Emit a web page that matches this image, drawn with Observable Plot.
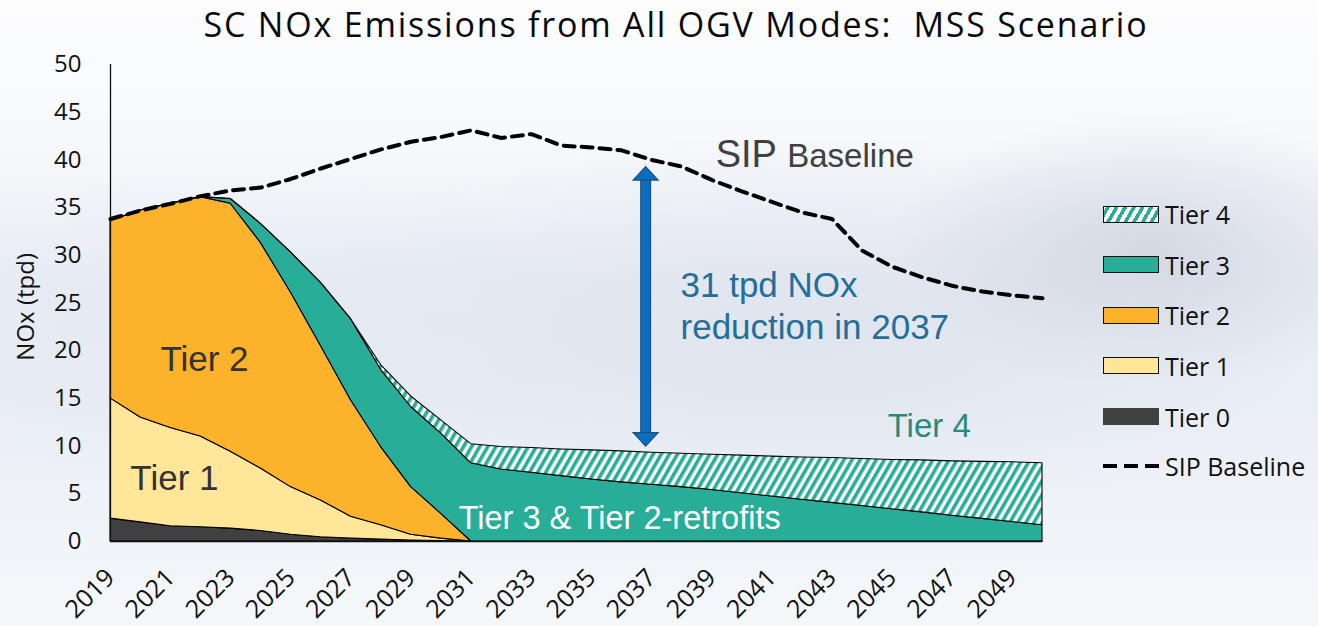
<!DOCTYPE html>
<html>
<head>
<meta charset="utf-8">
<script src="https://cdn.jsdelivr.net/npm/d3@7"></script>
<script src="https://cdn.jsdelivr.net/npm/@observablehq/plot@0.6"></script>
<style>
html, body { margin: 0; padding: 0; }
body { width: 1318px; height: 626px; overflow: hidden; }
#wrap {
  position: relative; width: 1318px; height: 626px; overflow: hidden;
  background:
    radial-gradient(ellipse 260px 140px at 1150px 250px, rgba(205,210,222,0.75), rgba(205,210,222,0) 100%),
    radial-gradient(ellipse 520px 200px at 800px 330px, rgba(215,220,232,0.55), rgba(215,220,232,0) 100%),
    radial-gradient(ellipse 420px 160px at 250px 330px, rgba(225,232,242,0.6), rgba(225,232,242,0) 100%),
    linear-gradient(to bottom, #fdfdfe 0%, #f7f9fc 22%, #e9edf4 45%, #eaeef5 65%, #f0f4f9 85%, #f5f8fb 100%);
}
#chart { position: absolute; left: 0; top: 0; }
#title {
  position: absolute; left: 0; top: 1px; width: 1352px; text-align: center;
  font-family: "Open Sans", sans-serif; font-size: 34px; letter-spacing: 1.8px; color: #0a0a0a; white-space: pre;
}
.item { position: absolute; left: 1103px; height: 20px; display: flex; align-items: center;
  font-family: "Open Sans", sans-serif; font-size: 25px; color: #111; white-space: nowrap; }
.sw { width: 56px; height: 17px; box-sizing: border-box; border: 1.5px solid #111; margin-right: 6px; flex: none; }
.dash { width: 56px; height: 4px; margin-right: 6px; flex: none;
  background: repeating-linear-gradient(to right, #000 0 14px, transparent 14px 21px); }
</style>
</head>
<body>
<div id="wrap">
  <div id="chart"></div>
  <div id="title">SC NOx Emissions from All OGV Modes:  MSS Scenario</div>
  <div id="legend"></div>
</div>
<script>
// ---------- data ----------
const years = [2019, 2020, 2021, 2022, 2023, 2024, 2025, 2026, 2027, 2028, 2029, 2030,
  2031, 2032, 2033, 2034, 2035, 2036, 2037, 2038, 2039, 2040, 2041, 2042, 2043, 2044,
  2045, 2046, 2047, 2048, 2049, 2050];
const tierNames = ["Tier 0", "Tier 1", "Tier 2", "Tier 3", "Tier 4"];
const tier0 = [2.4, 2.0, 1.6, 1.5, 1.35, 1.1, 0.7, 0.45, 0.3, 0.2, 0.1, 0.05,
  0, 0, 0, 0, 0, 0, 0, 0, 0, 0, 0, 0, 0, 0, 0, 0, 0, 0, 0, 0];
const tier1 = [12.6, 11.0, 10.3, 9.5, 8.05, 6.55, 5.0, 3.85, 2.3, 1.5, 0.6, 0.25,
  0, 0, 0, 0, 0, 0, 0, 0, 0, 0, 0, 0, 0, 0, 0, 0, 0, 0, 0, 0];
const tier2 = [18.6, 21.7, 23.5, 25.1, 26.0, 23.65, 20.4, 16.2, 12.2, 8.2, 5.0, 2.6,
  0, 0, 0, 0, 0, 0, 0, 0, 0, 0, 0, 0, 0, 0, 0, 0, 0, 0, 0, 0];
const tier3 = [0, 0, 0, 0, 0.5, 2.0, 4.2, 6.6, 8.5, 8.1, 8.4, 8.4,
  8.2, 7.55, 7.2, 6.85, 6.5, 6.2, 5.95, 5.7, 5.4, 5.05, 4.72, 4.38, 4.05, 3.72,
  3.38, 3.05, 2.7, 2.37, 2.04, 1.7];
const tier4 = [0, 0, 0, 0, 0, 0, 0, 0, 0, 0.5, 1.1, 1.4,
  2.0, 2.35, 2.6, 2.8, 3.05, 3.25, 3.35, 3.5, 3.7, 3.95, 4.18, 4.42, 4.7, 4.93,
  5.17, 5.45, 5.7, 5.98, 6.26, 6.5];
const sipBaseline = [33.8, 34.7, 35.4, 36.2, 36.8, 37.1, 38.0, 39.1, 40.1, 41.1, 41.9, 42.4,
  43.1, 42.3, 42.7, 41.5, 41.3, 41.0, 40.0, 39.3, 37.9, 36.7, 35.6, 34.5, 33.8, 30.5,
  28.8, 27.7, 26.8, 26.2, 25.8, 25.5];
const xTickLabels = [2019, 2021, 2023, 2025, 2027, 2029, 2031, 2033, 2035, 2037, 2039,
  2041, 2043, 2045, 2047, 2049];
const yTickLabels = [0, 5, 10, 15, 20, 25, 30, 35, 40, 45, 50];

// ---------- styles ----------
const tierColors = ["#404040", "#ffe699", "#fdb22b", "#27ad98", "url(#hatch)"];
const teal = "#27ad98";

// ---------- tables ----------
const tierSeries = [tier0, tier1, tier2, tier3, tier4];
const stacked = [];
tierNames.forEach((name, i) => {
  years.forEach((yr, j) => stacked.push({year: yr, tier: name, value: tierSeries[i][j]}));
});
const baseline = years.map((yr, j) => ({year: yr, value: sipBaseline[j]}));

// custom arrowhead symbols (tip at origin)
const headUp = { draw(ctx) { ctx.moveTo(0, 0); ctx.lineTo(12.5, 13.5); ctx.lineTo(-12.5, 13.5); ctx.closePath(); } };
const headDown = { draw(ctx) { ctx.moveTo(0, 0); ctx.lineTo(12.5, -13.5); ctx.lineTo(-12.5, -13.5); ctx.closePath(); } };
const arrowYear = 2036.8;
const serif = "'Liberation Sans', Arial, sans-serif";

const svg = Plot.plot({
  width: 1318,
  height: 626,
  marginLeft: 110,
  marginRight: 276,
  marginTop: 64,
  marginBottom: 85,
  style: { background: "none", fontFamily: "'Open Sans', sans-serif", fontSize: "24px", color: "#111" },
  x: { domain: [2019, 2050] },
  y: { domain: [0, 50] },
  color: { domain: tierNames, range: tierColors },
  marks: [
    Plot.areaY(stacked, { x: "year", y: "value", z: "tier", fill: "tier", order: tierNames,
      stroke: "#000", strokeWidth: 1.1, strokeLinejoin: "round" }),
    Plot.line(baseline, { x: "year", y: "value", stroke: "#000", strokeWidth: 4, strokeDasharray: "11,7" }),
    Plot.ruleX([2019], { stroke: "#111", strokeWidth: 1.3 }),
    Plot.ruleY([0], { stroke: "#111", strokeWidth: 1.3 }),
    Plot.axisY({ ticks: yTickLabels, tickSize: 0, tickPadding: 29, fontSize: 24, label: null }),
    Plot.axisX({ ticks: xTickLabels, tickFormat: d => String(d), tickRotate: -45, tickSize: 0,
      tickPadding: 32, fontSize: 25, label: null }),
    Plot.text(["NOx (tpd)"], { x: 2019, y: 24.6, dx: -84, rotate: -90, fontSize: 24,
      fontFamily: "'Open Sans', sans-serif", fill: "#111" }),
    // double-headed arrow
    Plot.ruleX([arrowYear], { y1: 11.4, y2: 37.9, stroke: "#1f4f7c", strokeWidth: 11 }),
    Plot.ruleX([arrowYear], { y1: 11.2, y2: 38.1, stroke: "#0a6fc2", strokeWidth: 8.5 }),
    Plot.dot([39.3], { x: arrowYear, y: d => d, symbol: headUp, fill: "#0a6fc2", stroke: "#1f4f7c", strokeWidth: 1.2 }),
    Plot.dot([10.0], { x: arrowYear, y: d => d, symbol: headDown, fill: "#0a6fc2", stroke: "#1f4f7c", strokeWidth: 1.2 }),
    // annotations
    Plot.text(["Tier 2"], { x: 2020.66, y: 17.92, textAnchor: "start", lineAnchor: "bottom", fontSize: 35,
      fontFamily: serif, fill: "#333" }),
    Plot.text(["Tier 1"], { x: 2019.66, y: 5.45, textAnchor: "start", lineAnchor: "bottom", fontSize: 35,
      fontFamily: serif, fill: "#333" }),
    Plot.text(["Tier 3 & Tier 2-retrofits"], { x: 2030.58, y: 1.36, textAnchor: "start", lineAnchor: "bottom",
      fontSize: 32.5, fontFamily: serif, fill: "#fff" }),
    Plot.text(["Tier 4"], { x: 2044.85, y: 11.0, textAnchor: "start", lineAnchor: "bottom", fontSize: 33,
      fontFamily: serif, fill: "#2b8a79" }),
    Plot.text(["SIP"], { x: 2039.13, y: 39.26, textAnchor: "start", lineAnchor: "bottom", fontSize: 38,
      fontFamily: serif, fill: "#404040" }),
    Plot.text(["Baseline"], { x: 2041.51, y: 39.26, textAnchor: "start", lineAnchor: "bottom", fontSize: 33,
      fontFamily: serif, fill: "#404040" }),
    Plot.text(["31 tpd NOx"], { x: 2037.96, y: 25.68, textAnchor: "start", lineAnchor: "bottom", fontSize: 35,
      fontFamily: serif, fill: "#226f98" }),
    Plot.text(["reduction in 2037"], { x: 2037.96, y: 21.25, textAnchor: "start", lineAnchor: "bottom", fontSize: 35,
      fontFamily: serif, fill: "#226f98" })
  ]
});

// hatch pattern for Tier 4
const ns = "http://www.w3.org/2000/svg";
const defs = document.createElementNS(ns, "defs");
defs.innerHTML = `<pattern id="hatch" patternUnits="userSpaceOnUse" width="7" height="7" patternTransform="rotate(30)">
  <rect width="7" height="7" fill="#ffffff"></rect><rect width="3.6" height="7" fill="${teal}"></rect></pattern>`;
svg.insertBefore(defs, svg.firstChild);
document.getElementById("chart").appendChild(svg);

// legend
const legend = document.getElementById("legend");
const legendItems = [
  { label: "Tier 4", center: 214, bg: `repeating-linear-gradient(-60deg, #fff 0 4px, ${teal} 4px 7.5px)`, border: true },
  { label: "Tier 3", center: 264.5, bg: tierColors[3], border: true },
  { label: "Tier 2", center: 315, bg: tierColors[2], border: true },
  { label: "Tier 1", center: 365.5, bg: tierColors[1], border: true },
  { label: "Tier 0", center: 416.5, bg: tierColors[0], border: false },
  { label: "SIP Baseline", center: 466, dash: true }
];
legendItems.forEach(it => {
  const row = document.createElement("div");
  row.className = "item";
  row.style.top = (it.center - 10) + "px";
  const sw = document.createElement("div");
  if (it.dash) { sw.className = "dash"; }
  else {
    sw.className = "sw";
    sw.style.background = it.bg;
    if (!it.border) sw.style.border = "none";
  }
  row.appendChild(sw);
  const t = document.createElement("span");
  t.textContent = it.label;
  row.appendChild(t);
  legend.appendChild(row);
});
</script>
</body>
</html>
